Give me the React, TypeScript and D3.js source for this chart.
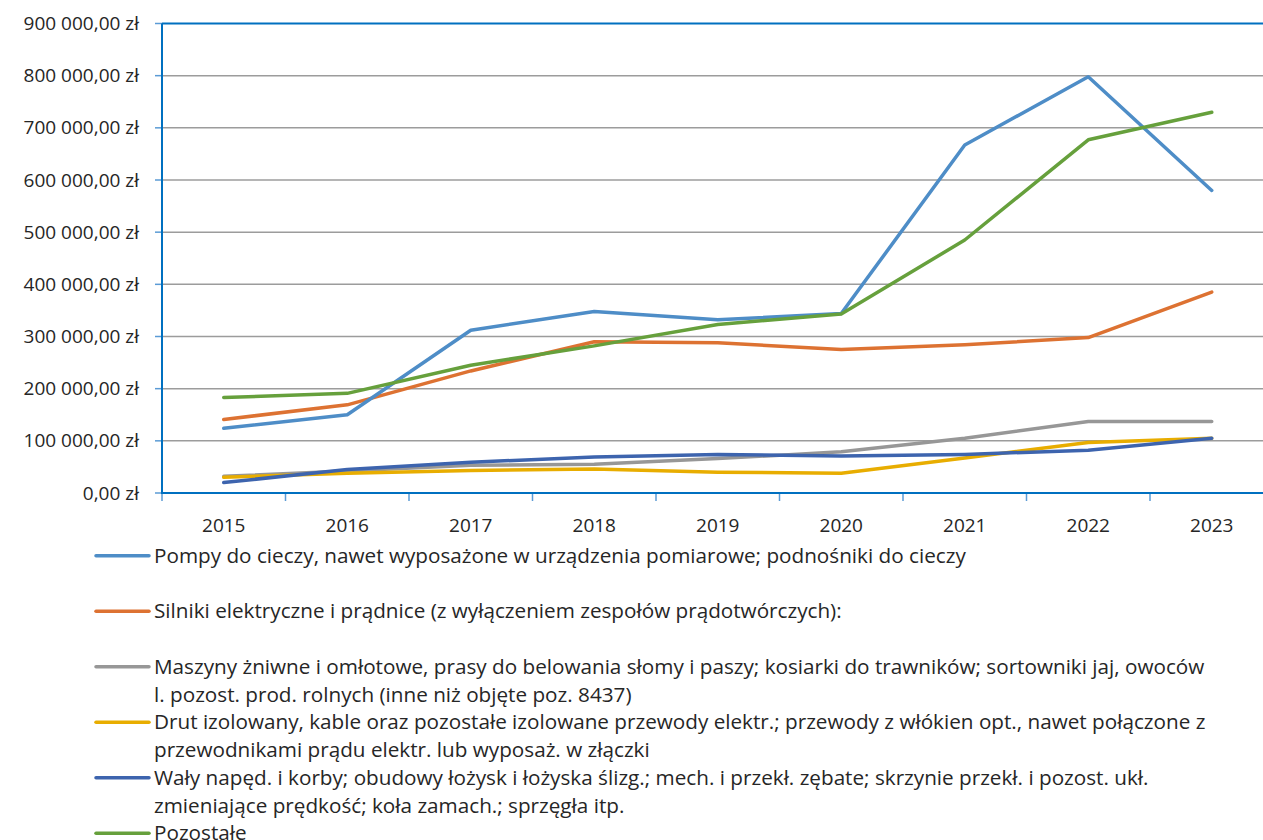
import React from "react";
import * as d3 from "d3";

const years = ["2015", "2016", "2017", "2018", "2019", "2020", "2021", "2022", "2023"];

const pompy = [124000, 150000, 312000, 348000, 332000, 344000, 667000, 798000, 580000];
const silniki = [141000, 169000, 234000, 290000, 288000, 275000, 284000, 298000, 385000];
const maszyny = [32000, 42000, 53000, 55000, 66000, 79000, 105000, 137000, 137000];
const drut = [30000, 38000, 43000, 46000, 40000, 38000, 67000, 97000, 105000];
const waly = [20000, 45000, 59000, 69000, 74000, 71000, 74000, 82000, 105000];
const pozostale = [183000, 191000, 245000, 282000, 323000, 343000, 485000, 677000, 730000];

const yTicks = [0, 100000, 200000, 300000, 400000, 500000, 600000, 700000, 800000, 900000];

const seriesNames = [
  ["Pompy do cieczy, nawet wyposażone w urządzenia pomiarowe; podnośniki do cieczy"],
  ["Silniki elektryczne i prądnice (z wyłączeniem zespołów prądotwórczych):"],
  [
    "Maszyny żniwne i omłotowe, prasy do belowania słomy i paszy; kosiarki do trawników; sortowniki jaj, owoców",
    "l. pozost. prod. rolnych (inne niż objęte poz. 8437)",
  ],
  [
    "Drut izolowany, kable oraz pozostałe izolowane przewody elektr.; przewody z włókien opt., nawet połączone z",
    "przewodnikami prądu elektr. lub wyposaż. w złączki",
  ],
  [
    "Wały napęd. i korby; obudowy łożysk i łożyska ślizg.; mech. i przekł. zębate; skrzynie przekł. i pozost. ukł.",
    "zmieniające prędkość; koła zamach.; sprzęgła itp.",
  ],
  ["Pozostałe"],
];

const seriesValues = [pompy, silniki, maszyny, drut, waly, pozostale];
const seriesColors = ["#4E8DC7", "#DD7232", "#979797", "#E8AD00", "#3D64AE", "#66A03C"];
const drawOrder = [2, 3, 4, 1, 0, 5];

const W = 1263;
const H = 840;
const FONT = "'Open Sans', 'Noto Sans', sans-serif";

function fmt(v: number) {
  const s = d3.format(",.2f")(v).replace(/,/g, " ").replace(".", ",");
  return s + " zł";
}

export default function App() {
  const left = 162;
  const top = 23.5;
  const bottom = 493;
  const x = d3.scaleBand<string>().domain(years).range([left, left + 123.5 * 9]).padding(0);
  const y = d3.scaleLinear().domain([0, 900000]).range([bottom, top]);
  const bw = x.bandwidth();
  const line = d3
    .line<number>()
    .x((_, i) => (x(years[i]) as number) + bw / 2)
    .y((d) => y(d));

  const legendY0 = 555.7;
  const entryH = 55.5;
  const lineH = 27.75;

  return (
    <div style={{ position: "fixed", left: 0, top: 0, width: W, height: H, overflow: "hidden", background: "#fff" }}>
      <svg width={W} height={H} style={{ display: "block" }} fontFamily={FONT}>
        {/* gridlines */}
        {yTicks.slice(1, -1).map((t) => (
          <line key={"g" + t} x1={left} x2={W} y1={y(t)} y2={y(t)} stroke="#9C9C9C" strokeWidth={1.5} />
        ))}
        {/* top border */}
        <line x1={left} x2={W} y1={y(900000)} y2={y(900000)} stroke="#0070C0" strokeWidth={2} />
        {/* y ticks */}
        {yTicks.map((t) => (
          <line key={"yt" + t} x1={155} x2={left} y1={y(t)} y2={y(t)} stroke="#5B9BD5" strokeWidth={1.5} />
        ))}
        {/* x ticks */}
        {years.map((yr) => (
          <line
            key={"xt" + yr}
            x1={x(yr) as number}
            x2={x(yr) as number}
            y1={bottom}
            y2={bottom + 8}
            stroke="#5B9BD5"
            strokeWidth={1.5}
          />
        ))}
        {/* axes */}
        <line x1={left} x2={left} y1={top} y2={bottom + 1} stroke="#0070C0" strokeWidth={2} />
        <line x1={left - 1} x2={W} y1={bottom} y2={bottom} stroke="#0070C0" strokeWidth={2} />
        {/* y labels */}
        {yTicks.map((t) => (
          <text
            key={"yl" + t}
            x={139}
            y={y(t)}
            dy="0.35em"
            textAnchor="end"
            fontSize={19}
            fill="#262626"
          >
            {fmt(t)}
          </text>
        ))}
        {/* x labels */}
        {years.map((yr) => (
          <text
            key={"xl" + yr}
            x={(x(yr) as number) + bw / 2}
            y={525}
            dy="0.35em"
            textAnchor="middle"
            fontSize={19}
            fill="#262626"
          >
            {yr}
          </text>
        ))}
        {/* series */}
        {drawOrder.map((si) => (
          <path
            key={"s" + si}
            d={line(seriesValues[si]) as string}
            fill="none"
            stroke={seriesColors[si]}
            strokeWidth={3.5}
            strokeLinejoin="round"
            strokeLinecap="round"
          />
        ))}
        {/* legend */}
        {seriesNames.map((lines, i) => {
          const cy = legendY0 + i * entryH;
          return (
            <g key={"lg" + i}>
              <line x1={96} x2={149} y1={cy} y2={cy} stroke={seriesColors[i]} strokeWidth={3.5} strokeLinecap="round" />
              {lines.map((t, j) => (
                <text key={j} x={154} y={cy + j * lineH} dy="0.35em" fontSize={20.7} fill="#262626">
                  {t}
                </text>
              ))}
            </g>
          );
        })}
      </svg>
    </div>
  );
}
